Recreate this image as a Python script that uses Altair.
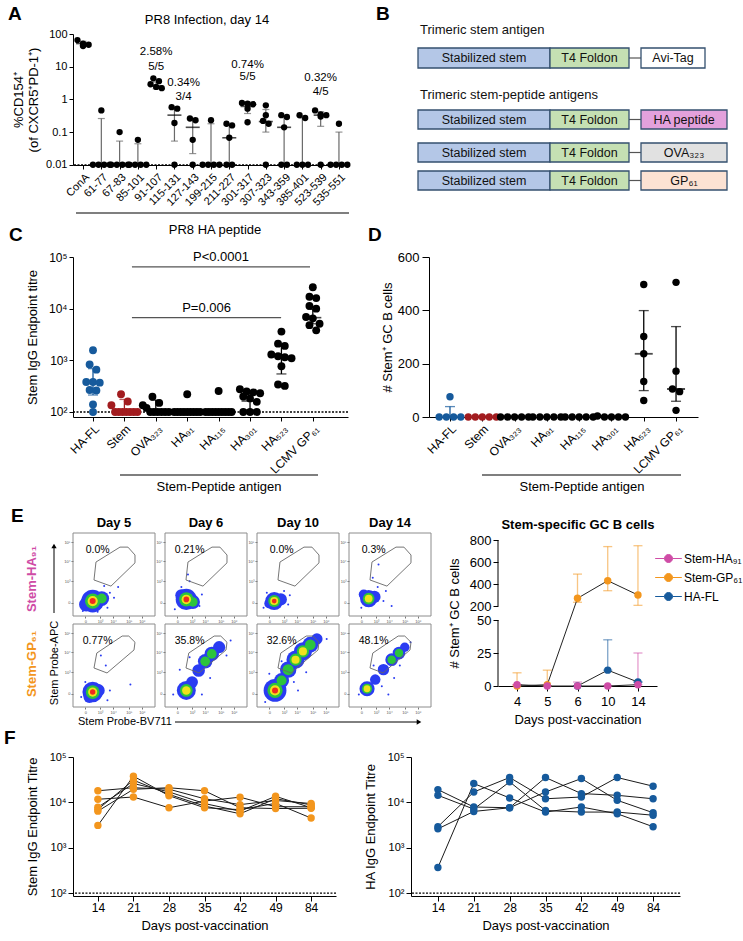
import json
import altair as alt
import numpy as np
import pandas as pd

FONT = "Liberation Sans"
BLUE = "#165a9c"
RED = "#a21c1f"
ORANGE = "#f3961d"
MAGENTA = "#cf4ca6"
ERR_GREY = "#6a6a6a"
SUP_EXPR = ("'10' + ['\u2070','\u00b9','\u00b2','\u00b3','\u2074','\u2075','\u2076']"
            "[round(log(datum.value) / LN10)]")
LETTER = dict(fontSize=19, fontWeight="bold", align="left", baseline="middle", color="black")

# ---------------- Panel A data ----------------
A_CATS = ["ConA", "61-77", "67-83", "85-101", "91-107", "115-131", "127-143",
          "199-215", "211-227", "301-317", "307-323", "343-359", "385-401",
          "523-539", "535-551"]
A_VALUES = [
    [65, 51, 43, 47],
    [0.46, 0.01, 0.01, 0.01, 0.01],
    [0.10, 0.01, 0.01, 0.01, 0.01],
    [0.058, 0.01, 0.01, 0.01, 0.01],
    [4.4, 3.6, 2.9, 2.4, 2.2],
    [0.58, 0.52, 0.19, 0.01],
    [0.26, 0.23, 0.058, 0.01],
    [0.23, 0.01, 0.01, 0.01, 0.01],
    [0.18, 0.16, 0.067, 0.01, 0.01],
    [0.78, 0.74, 0.71, 0.52, 0.20],
    [0.66, 0.33, 0.22, 0.18, 0.01],
    [0.33, 0.29, 0.14, 0.01, 0.01],
    [0.33, 0.27, 0.01, 0.01, 0.01],
    [0.46, 0.35, 0.33, 0.30, 0.01],
    [0.18, 0.01, 0.01, 0.01, 0.01],
]
A_MEAN = [51, 0.01, 0.01, 0.01, 2.58, 0.33, 0.14, 0.01, 0.067, 0.61, 0.21, 0.14, 0.01, 0.33, 0.01]
A_LOW = [44, 0.01, 0.01, 0.01, 2.1, 0.053, 0.022, 0.01, 0.01, 0.37, 0.10, 0.01, 0.01, 0.15, 0.01]
A_HIGH = [60, 0.26, 0.053, 0.044, 3.4, 0.59, 0.26, 0.18, 0.17, 0.82, 0.49, 0.30, 0.27, 0.42, 0.10]
A_NOTE_X = [4, 5.5, 9, 13]
A_NOTE_PCT = ["2.58%", "0.34%", "0.74%", "0.32%"]
A_NOTE_FRAC = ["5/5", "3/4", "5/5", "4/5"]
A_NOTE_PCT_Y = [27.9, 3.1, 11.4, 4.4]
A_NOTE_FRAC_Y = [9.7, 1.15, 4.8, 1.7]

# ---------------- Panel B data ----------------
B_HEADINGS = ["Trimeric stem antigen", "Trimeric stem-peptide antigens"]
B_HEADING_Y = [30, 95]
B_ROW_Y = [(48, 68), (110, 129), (143, 162), (171, 190)]
B_PARTS = ["Stabilized stem", "T4 Foldon"]
B_PART_X = [(414, 546), (546, 625)]
B_PART_FILL = ["#b4c7e7", "#c5e0b3"]
B_LINK_X = (625, 637)
B_TAGS = ["Avi-Tag", "HA peptide", "OVA\u2083\u2082\u2083", "GP\u2086\u2081"]
B_TAG_X = [(637, 701), (637, 723), (637, 723), (637, 723)]
B_TAG_FILL = ["#ffffff", "#e3a1dc", "#e1e1e1", "#fce2d3"]

# ---------------- Panel C / D data ----------------
CD_CATS = ["HA-FL", "Stem", "OVA\u2083\u2082\u2083", "HA\u2089\u2081", "HA\u2081\u2081\u2085",
           "HA\u2083\u2080\u2081", "HA\u2085\u2082\u2083", "LCMV GP\u2086\u2081"]
CD_COLORS = [BLUE, RED, "black", "black", "black", "black", "black", "black"]
C_VALUES = [
    [1570, 830, 660, 380, 380, 370, 267, 260, 140, 100],
    [220, 160, 135, 100, 100, 100, 100, 100, 100, 100],
    [197, 150, 135, 120, 100, 100, 100, 100, 100, 100],
    [220, 100, 100, 100, 100, 100, 100, 100, 100, 100],
    [255, 100, 100, 100, 100, 100, 100, 100, 100, 100],
    [276, 250, 240, 230, 200, 183, 157, 100, 100, 100],
    [3600, 2100, 1900, 1300, 1200, 1150, 1100, 770, 340, 320],
    [26000, 17000, 16000, 11300, 10000, 6900, 6500, 5100, 4800, 3800],
]
C_MEAN = [380, 110, 110, 100, 100, 163, 1180, 6700]
C_LOW = [213, 100, 100, 100, 100, 110, 545, 5100]
C_HIGH = [690, 175, 170, 100, 100, 230, 1970, 9700]
C_SIG_FROM = [1.24, 1.24]
C_SIG_TO = [6.91, 5.99]
C_SIG_Y = [64400, 6680]
C_SIG_TEXT = ["P<0.0001", "P=0.006"]

D_VALUES = [
    [76, 0, 0, 0, 0],
    [0, 0, 0, 0, 0],
    [0, 0, 0, 0, 0],
    [0, 0, 0, 0, 0],
    [0, 0, 0, 0, 0],
    [4, 0, 0, 0, 0],
    [497, 302, 237, 133, 62],
    [505, 172, 105, 95, 25],
]
D_MID = [0, 0, 0, 0, 0, 0, 237, 105]
D_LOW = [0, 0, 0, 0, 0, 0, 99, 59]
D_HIGH = [39, 0, 0, 0, 0, 0, 399, 339]

# ---------------- Panel E data ----------------
FLOW_DAYS = ["Day 5", "Day 6", "Day 10", "Day 14"]
FLOW_ROWS = ["Stem-HA\u2089\u2081", "Stem-GP\u2086\u2081"]
FLOW_PCT = [["0.0%", "0.21%", "0.0%", "0.3%"], ["0.77%", "35.8%", "32.6%", "48.1%"]]
GATE_TOP_X = [0.256, 0.28, 0.573, 0.67, 0.756, 0.756, 0.463, 0.256]
GATE_TOP_Y = [0.434, 0.65, 0.83, 0.83, 0.735, 0.64, 0.36, 0.434]
GATE_BOTTOM_X = [0.256, 0.29, 0.60, 0.68, 0.756, 0.744, 0.415, 0.256]
GATE_BOTTOM_Y = [0.47, 0.65, 0.855, 0.855, 0.78, 0.687, 0.41, 0.47]
# (row, day, x, y, cloud size, density level 1-4)
FLOW_BLOBS = [
    (0, 0, 0.24, 0.18, 520, 4), (0, 0, 0.35, 0.21, 220, 2), (0, 0, 0.16, 0.14, 200, 1),
    (0, 1, 0.26, 0.20, 450, 4), (0, 1, 0.34, 0.17, 200, 2), (0, 1, 0.20, 0.25, 150, 1),
    (0, 2, 0.21, 0.18, 320, 4), (0, 2, 0.29, 0.20, 150, 1), (0, 2, 0.15, 0.15, 100, 1),
    (0, 3, 0.24, 0.21, 300, 3), (0, 3, 0.31, 0.23, 150, 1), (0, 3, 0.18, 0.26, 100, 1),
    (1, 0, 0.24, 0.18, 420, 4), (1, 0, 0.31, 0.20, 160, 1), (1, 0, 0.20, 0.12, 140, 1),
    (1, 1, 0.26, 0.20, 360, 3), (1, 1, 0.33, 0.30, 140, 1), (1, 1, 0.41, 0.44, 160, 1),
    (1, 1, 0.49, 0.55, 210, 2), (1, 1, 0.57, 0.64, 210, 2), (1, 1, 0.66, 0.72, 150, 1),
    (1, 2, 0.22, 0.20, 520, 4), (1, 2, 0.30, 0.32, 220, 2), (1, 2, 0.38, 0.45, 270, 2),
    (1, 2, 0.47, 0.57, 330, 3), (1, 2, 0.56, 0.67, 330, 3), (1, 2, 0.65, 0.75, 250, 2),
    (1, 2, 0.73, 0.82, 130, 1),
    (1, 3, 0.22, 0.22, 230, 3), (1, 3, 0.32, 0.33, 110, 1), (1, 3, 0.42, 0.45, 130, 1),
    (1, 3, 0.52, 0.57, 160, 2), (1, 3, 0.61, 0.65, 160, 2), (1, 3, 0.68, 0.72, 90, 1),
]
FLOW_DOTS = [
    (0, 0, 0.45, 0.28), (0, 0, 0.50, 0.22), (0, 0, 0.42, 0.10), (0, 0, 0.55, 0.35),
    (0, 0, 0.38, 0.36), (0, 0, 0.12, 0.06), (0, 0, 0.30, 0.05),
    (0, 1, 0.28, 0.50), (0, 1, 0.30, 0.42), (0, 1, 0.12, 0.08), (0, 1, 0.42, 0.12),
    (0, 1, 0.45, 0.26), (0, 1, 0.20, 0.35),
    (0, 2, 0.40, 0.25), (0, 2, 0.38, 0.14), (0, 2, 0.08, 0.10), (0, 2, 0.33, 0.30), (0, 2, 0.12, 0.28),
    (0, 3, 0.36, 0.62), (0, 3, 0.29, 0.46), (0, 3, 0.35, 0.35), (0, 3, 0.45, 0.30),
    (0, 3, 0.52, 0.12), (0, 3, 0.15, 0.10), (0, 3, 0.42, 0.18),
    (1, 0, 0.34, 0.62), (1, 0, 0.40, 0.50), (1, 0, 0.70, 0.27), (1, 0, 0.45, 0.20),
    (1, 0, 0.15, 0.30), (1, 0, 0.42, 0.08), (1, 0, 0.10, 0.12),
    (1, 1, 0.18, 0.45), (1, 1, 0.30, 0.60), (1, 1, 0.75, 0.62), (1, 1, 0.10, 0.15),
    (1, 1, 0.80, 0.80), (1, 1, 0.55, 0.35), (1, 1, 0.45, 0.15),
    (1, 2, 0.15, 0.40), (1, 2, 0.45, 0.30), (1, 2, 0.85, 0.82), (1, 2, 0.60, 0.42),
    (1, 2, 0.10, 0.06), (1, 2, 0.50, 0.20), (1, 2, 0.30, 0.55),
    (1, 3, 0.12, 0.15), (1, 3, 0.40, 0.25), (1, 3, 0.55, 0.35), (1, 3, 0.75, 0.78),
    (1, 3, 0.30, 0.50), (1, 3, 0.48, 0.15), (1, 3, 0.62, 0.50),
]
RING_COLORS = ["#2a3cf2", "#2cc43c", "#f0e21c", "#ee2a1f"]
RING_SCALE = [1.0, 0.45, 0.2, 0.07]
FLOW_X_TICKS = [0.15, 0.33, 0.49, 0.68, 0.84]
FLOW_Y_TICKS = [0.16, 0.42, 0.66, 0.89]

E_DAYS = ["4", "5", "6", "10", "14"]
E_SERIES = ["Stem-HA\u2089\u2081", "Stem-GP\u2086\u2081", "HA-FL"]
E_COLORS = [MAGENTA, ORANGE, BLUE]
E_MEAN = [[1, 0, 0, 0, 1], [0, 1, 270, 430, 300], [None, None, 0, 12, 3]]
E_LOW = [[1, 0, 0, 0, 1], [0, 0, 234, 339, 206], [None, None, 0, 12, 3]]
E_HIGH = [[1, 0, 3, 0, 25], [10, 12, 490, 740, 748], [None, None, 0, 35, 3]]

# ---------------- Panel F data ----------------
F_DAYS = ["14", "21", "28", "35", "42", "49", "84"]
F_STEM = [
    [18000, 21000, 19500, 12000, 8900, 11000, 9400],
    [11700, 13100, 7600, 10700, 13000, 8000, 8000],
    [7800, 26000, 17000, 9400, 6400, 13600, 7600],
    [7000, 30800, 15000, 8300, 5600, 12000, 8800],
    [6400, 19400, 21000, 18000, 7600, 7300, 7400],
    [3100, 37800, 14000, 7600, 6900, 9500, 4500],
]
F_HA = [
    [19100, 7900, 7600, 35300, 15600, 14300, 12000],
    [14300, 7100, 28300, 6600, 6100, 6100, 5200],
    [2900, 16900, 35300, 12000, 13100, 35300, 22700],
    [2600, 6300, 7600, 16900, 33500, 11100, 5900],
    [365, 26000, 12500, 6100, 7900, 5600, 2900],
]


# ---------------- helpers ----------------
def swarm(vals, to_px, diam, gap, max_half):
    order = sorted(range(len(vals)), key=lambda i: -vals[i])
    groups = []
    for i in order:
        y = to_px(vals[i])
        if groups and abs(groups[-1][0] - y) < diam * 0.8:
            groups[-1][1].append(i)
        else:
            groups.append([y, [i]])
    offs = [0.0] * len(vals)
    for _, idx in groups:
        k = len(idx)
        if k > 1:
            step = min(diam * gap, 2.0 * max_half / (k - 1))
            for j, i in enumerate(idx):
                offs[i] = (j - (k - 1) / 2.0) * step
    return offs


def note(text, x, y, **style):
    return alt.Chart(pd.DataFrame({"t": [text]})).mark_text(**style).encode(
        text="t:N", x=alt.value(x), y=alt.value(y))


def hrule(x1, x2, y, **style):
    return alt.Chart(pd.DataFrame({"k": [0]})).mark_rule(**style).encode(
        x=alt.value(x1), x2=alt.value(x2), y=alt.value(y))


def vrule(x, y1, y2, **style):
    return alt.Chart(pd.DataFrame({"k": [0]})).mark_rule(**style).encode(
        x=alt.value(x), y=alt.value(y1), y2=alt.value(y2))


def spacer(y):
    return hrule(0, 1, y, strokeOpacity=0)


def cat_axis(cats, size):
    return alt.Axis(values=list(range(len(cats))),
                    labelExpr=json.dumps(cats, ensure_ascii=False) + "[datum.value]",
                    labelAngle=-45, labelFontSize=size, tickSize=4, labelPadding=2, title=None,
                    labelOverlap=False, labelBound=False)


# ================= Panel A =================
A_W, A_H = 276, 131
A_XDOM = [-0.55, 14.55]
A_YDOM = [0.00985, 100]
a_cat_px = A_W / (A_XDOM[1] - A_XDOM[0])
a_dec_px = A_H / (np.log10(A_YDOM[1]) - np.log10(A_YDOM[0]))


def a_x(f):
    return alt.X(f"{f}:Q", scale=alt.Scale(domain=A_XDOM, nice=False, zero=False),
                 axis=cat_axis(A_CATS, 11))


def a_y(f):
    return alt.Y(f"{f}:Q", scale=alt.Scale(type="log", domain=A_YDOM, nice=False),
                 axis=alt.Axis(values=[0.01, 0.1, 1, 10, 100], format="~g",
                               title=["%CD154\u207a", "(of CXCR5\u207aPD-1\u207a)"],
                               titleFontSize=13, labelFontSize=11, tickSize=4, titlePadding=5,
                               labelOverlap=False))


a_rows = []
for i, vals in enumerate(A_VALUES):
    offs = swarm(vals, lambda v: np.log10(v) * a_dec_px, 7.0, 0.8, 8.5)
    for v, o in zip(vals, offs):
        a_rows.append({"x": i + o / a_cat_px, "v": v})
a_pts = pd.DataFrame(a_rows)
a_sum = pd.DataFrame({"x": list(range(len(A_CATS))), "mean": A_MEAN, "lo": A_LOW, "hi": A_HIGH})
a_notes = pd.DataFrame({"x": A_NOTE_X + A_NOTE_X, "v": A_NOTE_PCT_Y + A_NOTE_FRAC_Y,
                        "t": A_NOTE_PCT + A_NOTE_FRAC})

chart_a = alt.layer(
    alt.Chart(pd.DataFrame({"v": [0.01]})).mark_rule(
        color="black", strokeDash=[2, 1.5], strokeWidth=1.3).encode(y=a_y("v")),
    alt.Chart(a_sum).mark_rule(color=ERR_GREY, strokeWidth=1.2).encode(
        x=a_x("x"), y=a_y("lo"), y2="hi:Q"),
    alt.Chart(a_sum).mark_tick(orient="horizontal", size=7, thickness=1.2, color=ERR_GREY).encode(
        x=a_x("x"), y=a_y("hi")),
    alt.Chart(a_sum).mark_tick(orient="horizontal", size=7, thickness=1.2, color=ERR_GREY).encode(
        x=a_x("x"), y=a_y("lo")),
    alt.Chart(a_sum).mark_tick(orient="horizontal", size=14, thickness=1.6, color="black").encode(
        x=a_x("x"), y=a_y("mean")),
    alt.Chart(a_pts).mark_circle(size=40, color="black", opacity=1).encode(x=a_x("x"), y=a_y("v")),
    alt.Chart(a_notes).mark_text(fontSize=11.5).encode(x=a_x("x"), y=a_y("v"), text="t:N"),
    note("PR8 Infection, day 14", 134, -14, fontSize=13),
    hrule(3, 276, 179, color="black", strokeWidth=1.2),
    note("A", -65, -20, **LETTER),
    spacer(-34),
    spacer(183),
).properties(width=A_W, height=A_H)

# ================= Panel B =================
B_X0, B_X1, B_Y0, B_Y1 = 414, 723, 34, 199
b_rect, b_text, b_link = [], [], []
for r, (y0, y1) in enumerate(B_ROW_Y):
    parts = [(B_PART_X[0], B_PART_FILL[0], B_PARTS[0]),
             (B_PART_X[1], B_PART_FILL[1], B_PARTS[1]),
             (B_TAG_X[r], B_TAG_FILL[r], B_TAGS[r])]
    for (x0, x1), fill, label in parts:
        b_rect.append({"x": x0, "x2": x1, "y": y0, "y2": y1, "fill": fill})
        b_text.append({"x": (x0 + x1) / 2, "y": (y0 + y1) / 2, "t": label})
    b_link.append({"x": B_LINK_X[0], "x2": B_LINK_X[1], "y": (y0 + y1) / 2})
b_head = pd.DataFrame({"x": [B_X0 + 2] * 2, "y": B_HEADING_Y, "t": B_HEADINGS})


def bx(f):
    return alt.X(f"{f}:Q", scale=alt.Scale(domain=[B_X0, B_X1], nice=False, zero=False), axis=None)


def by(f):
    return alt.Y(f"{f}:Q", scale=alt.Scale(domain=[B_Y0, B_Y1], nice=False, zero=False, reverse=True),
                 axis=None)


chart_b = alt.layer(
    alt.Chart(pd.DataFrame(b_link)).mark_rule(color="#555555", strokeWidth=1.2).encode(
        x=bx("x"), x2="x2:Q", y=by("y")),
    alt.Chart(pd.DataFrame(b_rect)).mark_rect(stroke="#34506f", strokeWidth=1.3).encode(
        x=bx("x"), x2="x2:Q", y=by("y"), y2="y2:Q", fill=alt.Fill("fill:N", scale=None)),
    alt.Chart(pd.DataFrame(b_text)).mark_text(fontSize=12.5, color="#111111").encode(
        x=bx("x"), y=by("y"), text="t:N"),
    alt.Chart(b_head).mark_text(fontSize=13, align="left", color="#111111").encode(
        x=bx("x"), y=by("y"), text="t:N"),
    note("B", -42, -20, **LETTER),
).properties(width=B_X1 - B_X0, height=B_Y1 - B_Y0)

# ================= Panel C =================
C_W, C_H = 275, 160
C_XDOM = [-0.637, 8.12]
C_YDOM = [80, 100000]
c_cat_px = C_W / (C_XDOM[1] - C_XDOM[0])
c_dec_px = C_H / (np.log10(C_YDOM[1]) - np.log10(C_YDOM[0]))


def c_x(f):
    return alt.X(f"{f}:Q", scale=alt.Scale(domain=C_XDOM, nice=False, zero=False),
                 axis=cat_axis(CD_CATS, 12))


def c_y(f):
    return alt.Y(f"{f}:Q", scale=alt.Scale(type="log", domain=C_YDOM, nice=False),
                 axis=alt.Axis(values=[100, 1000, 10000, 100000], labelExpr=SUP_EXPR,
                               title="Stem IgG Endpoint titre", titleFontSize=13,
                               labelFontSize=12, tickSize=4, titlePadding=9))


c_rows = []
for i, vals in enumerate(C_VALUES):
    offs = swarm(vals, lambda v: np.log10(v) * c_dec_px, 9.0, 0.75, 13.0)
    for v, o in zip(vals, offs):
        c_rows.append({"x": i + o / c_cat_px, "v": v, "c": CD_COLORS[i]})
c_pts = pd.DataFrame(c_rows)
c_sum = pd.DataFrame({"x": list(range(len(CD_CATS))), "mean": C_MEAN, "lo": C_LOW, "hi": C_HIGH,
                      "c": CD_COLORS})
c_sig = pd.DataFrame({"x1": C_SIG_FROM, "x2": C_SIG_TO, "v": C_SIG_Y, "t": C_SIG_TEXT,
                      "xm": [(a + b) / 2 for a, b in zip(C_SIG_FROM, C_SIG_TO)]})
colf = alt.Color("c:N", scale=None)

chart_c = alt.layer(
    alt.Chart(pd.DataFrame({"v": [100]})).mark_rule(
        color="black", strokeDash=[2, 1.5], strokeWidth=1.3).encode(y=c_y("v")),
    alt.Chart(c_sum).mark_rule(strokeWidth=1.3).encode(x=c_x("x"), y=c_y("lo"), y2="hi:Q", color=colf),
    alt.Chart(c_sum).mark_tick(orient="horizontal", size=10, thickness=1.3).encode(
        x=c_x("x"), y=c_y("hi"), color=colf),
    alt.Chart(c_sum).mark_tick(orient="horizontal", size=10, thickness=1.3).encode(
        x=c_x("x"), y=c_y("lo"), color=colf),
    alt.Chart(c_sum).mark_tick(orient="horizontal", size=17, thickness=1.6).encode(
        x=c_x("x"), y=c_y("mean"), color=colf),
    alt.Chart(c_pts).mark_circle(size=62, opacity=1).encode(x=c_x("x"), y=c_y("v"), color=colf),
    alt.Chart(c_sig).mark_rule(color="#555555", strokeWidth=1.2).encode(
        x=c_x("x1"), x2="x2:Q", y=c_y("v")),
    alt.Chart(c_sig).mark_text(fontSize=13, dy=-10).encode(x=c_x("xm"), y=c_y("v"), text="t:N"),
    note("PR8 HA peptide", 142, -27, fontSize=13),
    hrule(47, 245, 218, color="black", strokeWidth=1.2),
    note("Stem-Peptide antigen", 146, 230, fontSize=13),
    note("C", -64, -22, **LETTER),
    spacer(-40),
    spacer(243),
).properties(width=C_W, height=C_H)

# ================= Panel D =================
D_W, D_H = 269, 160
D_XDOM = [-0.65, 7.68]
D_YDOM = [0, 600]
d_cat_px = D_W / (D_XDOM[1] - D_XDOM[0])


def d_x(f):
    return alt.X(f"{f}:Q", scale=alt.Scale(domain=D_XDOM, nice=False, zero=False),
                 axis=cat_axis(CD_CATS, 12))


def d_y(f):
    return alt.Y(f"{f}:Q", scale=alt.Scale(domain=D_YDOM, nice=False, zero=False),
                 axis=alt.Axis(values=[0, 200, 400, 600], title="# Stem\u207a GC B cells",
                               titleFontSize=13, labelFontSize=13, tickSize=7, labelPadding=3,
                               titlePadding=3))


d_rows = []
for i, vals in enumerate(D_VALUES):
    offs = swarm(vals, lambda v: v * D_H / 600.0, 8.0, 0.9, 14.0)
    for v, o in zip(vals, offs):
        d_rows.append({"x": i + o / d_cat_px, "v": v, "c": CD_COLORS[i]})
d_pts = pd.DataFrame(d_rows)
d_err_colors = [BLUE] + ["black"] * 7
d_sum = pd.DataFrame({"x": list(range(len(CD_CATS))), "mid": D_MID, "lo": D_LOW, "hi": D_HIGH,
                      "c": d_err_colors})

chart_d = alt.layer(
    alt.Chart(d_sum).mark_rule(strokeWidth=1.3).encode(x=d_x("x"), y=d_y("lo"), y2="hi:Q", color=colf),
    alt.Chart(d_sum).mark_tick(orient="horizontal", size=10, thickness=1.3).encode(
        x=d_x("x"), y=d_y("hi"), color=colf),
    alt.Chart(d_sum).mark_tick(orient="horizontal", size=10, thickness=1.3).encode(
        x=d_x("x"), y=d_y("lo"), color=colf),
    alt.Chart(d_sum).mark_tick(orient="horizontal", size=18, thickness=1.8).encode(
        x=d_x("x"), y=d_y("mid"), color=colf),
    alt.Chart(d_pts).mark_circle(size=55, opacity=1).encode(x=d_x("x"), y=d_y("v"), color=colf),
    hrule(53, 252, 218, color="black", strokeWidth=1.2),
    note("Stem-Peptide antigen", 153, 230, fontSize=13),
    note("D", -61, -22, **LETTER),
).properties(width=D_W, height=D_H)

# ================= Panel E (flow grid) =================
recs = []
for r in range(2):
    for d in range(4):
        base = {"row": FLOW_ROWS[r], "day": FLOW_DAYS[d]}
        gx, gy = (GATE_TOP_X, GATE_TOP_Y) if r == 0 else (GATE_BOTTOM_X, GATE_BOTTOM_Y)
        for o, (x, y) in enumerate(zip(gx, gy)):
            recs.append({**base, "kind": "gate", "x": x, "y": y, "o": o})
        recs.append({**base, "kind": "pct", "x": 0.30, "y": 0.79, "t": FLOW_PCT[r][d]})
        recs.append({**base, "kind": "frame", "x": 0, "x2": 1, "y": 0, "y2": 1})
for (r, d, x, y, s, h) in FLOW_BLOBS:
    for lvl in range(h):
        recs.append({"row": FLOW_ROWS[r], "day": FLOW_DAYS[d], "kind": "ring", "x": x, "y": y,
                     "s": s * RING_SCALE[lvl], "c": RING_COLORS[lvl], "L": lvl})
for (r, d, x, y) in FLOW_DOTS:
    recs.append({"row": FLOW_ROWS[r], "day": FLOW_DAYS[d], "kind": "dot", "x": x, "y": y})
top0 = {"row": FLOW_ROWS[0], "day": FLOW_DAYS[0]}
bot0 = {"row": FLOW_ROWS[1], "day": FLOW_DAYS[0]}
recs += [
    {**top0, "kind": "rowlab_top", "t": FLOW_ROWS[0]},
    {**bot0, "kind": "rowlab_bottom", "t": FLOW_ROWS[1]},
    {**bot0, "kind": "apc", "t": "Stem Probe-APC"},
    {**bot0, "kind": "bv", "t": "Stem Probe-BV711"},
    {**bot0, "kind": "harrow"},
    {**top0, "kind": "varrow"},
    {**top0, "kind": "letter", "t": "E"},
]
flow_df = pd.DataFrame(recs)


def lbl_expr(ticks, labels):
    return json.dumps(labels, ensure_ascii=False) + "[indexof(" + json.dumps(ticks) + ", datum.value)]"


FX_AXIS = alt.Axis(values=FLOW_X_TICKS, title=None, domain=False, grid=False, tickSize=2,
                   tickColor="#777777", labelFontSize=4, labelColor="#555555", labelPadding=1,
                   labelExpr=lbl_expr(FLOW_X_TICKS, ["0", "10\u00b3", "10\u2074", "10\u2075", "10\u2076"]))
FY_AXIS = alt.Axis(values=FLOW_Y_TICKS, title=None, domain=False, grid=False, tickSize=2,
                   tickColor="#777777", labelFontSize=4, labelColor="#555555", labelPadding=1,
                   labelExpr=lbl_expr(FLOW_Y_TICKS, ["0", "10\u00b3", "10\u2074", "10\u2075"]))


def fx(f):
    return alt.X(f"{f}:Q", scale=alt.Scale(domain=[0, 1], nice=False, zero=False), axis=FX_AXIS)


def fy(f):
    return alt.Y(f"{f}:Q", scale=alt.Scale(domain=[0, 1], nice=False, zero=False), axis=FY_AXIS)


def kind(k):
    return alt.Chart().transform_filter(alt.datum.kind == k)


flow_layers = alt.layer(
    kind("ring").mark_circle(opacity=1).encode(
        x=fx("x"), y=fy("y"), size=alt.Size("s:Q", scale=None),
        color=alt.Color("c:N", scale=None), order=alt.Order("L:Q")),
    kind("dot").mark_circle(size=4, color=RING_COLORS[0], opacity=1).encode(x=fx("x"), y=fy("y")),
    kind("gate").mark_line(color="#666666", strokeWidth=0.9).encode(
        x=fx("x"), y=fy("y"), order=alt.Order("o:Q")),
    kind("pct").mark_text(fontSize=10.5).encode(x=fx("x"), y=fy("y"), text="t:N"),
    kind("frame").mark_rect(fillOpacity=0, stroke="#8c8c8c", strokeWidth=1).encode(
        x=fx("x"), x2="x2:Q", y=fy("y"), y2="y2:Q"),
    kind("rowlab_top").mark_text(angle=270, fontSize=13, fontWeight="bold", color=MAGENTA).encode(
        text="t:N", x=alt.value(-41), y=alt.value(46)),
    kind("rowlab_bottom").mark_text(angle=270, fontSize=13, fontWeight="bold", color=ORANGE).encode(
        text="t:N", x=alt.value(-41), y=alt.value(40)),
    kind("apc").mark_text(angle=270, fontSize=11).encode(text="t:N", x=alt.value(-18), y=alt.value(39)),
    kind("bv").mark_text(fontSize=11, align="left").encode(text="t:N", x=alt.value(5), y=alt.value(98)),
    kind("harrow").mark_rule(color="black", strokeWidth=1).encode(
        x=alt.value(102), x2=alt.value(345), y=alt.value(98)),
    kind("harrow").mark_point(shape="triangle-right", filled=True, size=28, color="black", opacity=1).encode(
        x=alt.value(346), y=alt.value(98)),
    kind("varrow").mark_rule(color="black", strokeWidth=1).encode(
        x=alt.value(-19), y=alt.value(14), y2=alt.value(80)),
    kind("varrow").mark_point(shape="triangle-up", filled=True, size=28, color="black", opacity=1).encode(
        x=alt.value(-19), y=alt.value(13)),
    kind("letter").mark_text(**LETTER).encode(text="t:N", x=alt.value(-62), y=alt.value(-17)),
    kind("letter").mark_rule(strokeOpacity=0).encode(x=alt.value(0), x2=alt.value(1), y=alt.value(-33)),
    data=flow_df,
).properties(width=82, height=83)

chart_e_flow = flow_layers.facet(
    row=alt.Row("row:N", sort=FLOW_ROWS, header=alt.Header(labels=False, title=None)),
    column=alt.Column("day:N", sort=FLOW_DAYS,
                      header=alt.Header(title=None, labelFontSize=13, labelFontWeight="bold",
                                        labelPadding=3)),
    spacing={"row": 8, "column": 10},
    bounds="flush",
).resolve_axis(x="independent", y="independent")

# ================= Panel E (GC B cells) =================
E_W, E_H = 159, 153
e_rows = []
for s_i in [1, 2, 0]:
    for d_i, day in enumerate(E_DAYS):
        m = E_MEAN[s_i][d_i]
        if m is None:
            continue
        e_rows.append({"series": E_SERIES[s_i], "day": day, "di": d_i, "m": m,
                       "lo": E_LOW[s_i][d_i], "hi": E_HIGH[s_i][d_i]})
e_df = pd.DataFrame(e_rows)

ex = alt.X("day:N", sort=E_DAYS, scale=alt.Scale(type="point", padding=0.63),
           axis=alt.Axis(labelAngle=0, title="Days post-vaccination", labelFontSize=13,
                         titleFontSize=13, tickSize=5, labelPadding=4, titlePadding=5))


def ey(f):
    return alt.Y(f"{f}:Q",
                 scale=alt.Scale(domain=[0, 50, 200, 800], range=[153, 87, 73, 7], nice=False, zero=False),
                 axis=alt.Axis(values=[0, 25, 50, 200, 400, 600, 800], title="# Stem\u207a GC B cells",
                               domain=False, labelFontSize=13, titleFontSize=13, tickSize=5,
                               titlePadding=8, labelOverlap=False))


LEGEND_PATH = "M-2,0L-0.6,0M0.6,0L2,0M0.6,0A0.6,0.6,0,1,1,-0.6,0A0.6,0.6,0,1,1,0.6,0Z"
E_LEGEND = alt.Legend(title=None, orient="none", legendX=163, legendY=18, symbolType=LEGEND_PATH,
                      symbolSize=178, symbolStrokeColor="#555555", symbolStrokeWidth=1,
                      symbolOpacity=1, labelFontSize=12, labelOffset=8, rowPadding=5, padding=0,
                      labelLimit=70)
e_color = alt.Color("series:N", scale=alt.Scale(domain=E_SERIES, range=E_COLORS), legend=E_LEGEND)

chart_e_right = alt.layer(
    alt.Chart(pd.DataFrame({"lo": [0, 200], "hi": [50, 800]})).mark_rule(
        color="black", strokeWidth=1).encode(x=alt.value(0), y=ey("lo"), y2="hi:Q"),
    alt.Chart(e_df).mark_rule(strokeWidth=1.3, opacity=0.55).encode(
        x=ex, y=ey("lo"), y2="hi:Q", color=e_color),
    alt.Chart(e_df).mark_tick(orient="horizontal", size=9, thickness=1.3, opacity=0.55).encode(
        x=ex, y=ey("hi"), color=e_color),
    alt.Chart(e_df).mark_tick(orient="horizontal", size=9, thickness=1.3, opacity=0.55).encode(
        x=ex, y=ey("lo"), color=e_color),
    alt.Chart(e_df).mark_line(color="#222222", strokeWidth=1).encode(
        x=ex, y=ey("m"), detail="series:N", order=alt.Order("di:Q")),
    alt.Chart(e_df).mark_circle(size=55, opacity=1).encode(x=ex, y=ey("m"), color=e_color),
    note("Stem-specific GC B cells", 80, -8, fontSize=13, fontWeight="bold"),
    spacer(-33),
    spacer(195),
    vrule(-60, 50, 51, strokeOpacity=0),
).properties(width=E_W, height=E_H)


# ================= Panel F =================
def f_chart(values, color, ytitle, width, pad, extra):
    rows = []
    for m, series in enumerate(values):
        for di, (day, v) in enumerate(zip(F_DAYS, series)):
            rows.append({"mouse": m, "day": day, "di": di, "v": v})
    df = pd.DataFrame(rows)
    fxx = alt.X("day:N", sort=F_DAYS, scale=alt.Scale(type="point", padding=pad),
                axis=alt.Axis(labelAngle=0, title="Days post-vaccination", labelFontSize=12,
                              titleFontSize=13, tickSize=5, labelPadding=1, titlePadding=6))

    def fyy(f):
        return alt.Y(f"{f}:Q", scale=alt.Scale(type="log", domain=[86, 100000], nice=False),
                     axis=alt.Axis(values=[100, 1000, 10000, 100000], labelExpr=SUP_EXPR, title=ytitle,
                                   titleFontSize=13, labelFontSize=11, tickSize=5, titlePadding=10))

    return alt.layer(
        alt.Chart(pd.DataFrame({"v": [100]})).mark_rule(
            color="black", strokeDash=[2, 1.5], strokeWidth=1.3).encode(y=fyy("v")),
        alt.Chart(df).mark_line(color="#1a1a1a", strokeWidth=1).encode(
            x=fxx, y=fyy("v"), detail="mouse:N", order=alt.Order("di:Q")),
        alt.Chart(df).mark_circle(size=55, color=color, opacity=1).encode(x=fxx, y=fyy("v")),
        *extra,
    ).properties(width=width, height=139)


chart_f1 = f_chart(F_STEM, ORANGE, "Stem IgG Endpoint Titre", 263, 0.7,
                   [note("F", -69, -19, **LETTER), spacer(-29)])
chart_f2 = f_chart(F_HA, BLUE, "HA IgG Endpoint Titre", 269, 0.75, [])

# ================= Layout =================
row1 = alt.hconcat(chart_a, chart_b, spacing=69, bounds="flush")
row2 = alt.hconcat(chart_c, chart_d, spacing=81, bounds="flush")
row3 = alt.hconcat(chart_e_flow, chart_e_right, spacing=6).resolve_scale(
    color="independent").resolve_legend(color="independent")
row4 = alt.hconcat(chart_f1, chart_f2, spacing=75, bounds="flush")

chart = alt.vconcat(row1, row2, row3, row4, spacing=0).resolve_scale(
    color="independent").resolve_legend(color="independent").properties(
    padding={"left": 4, "top": 0, "right": 0, "bottom": 0}
).configure(font=FONT).configure_view(stroke=None).configure_axis(
    grid=False, domainColor="black", tickColor="black", labelColor="black", titleColor="black",
    titleFontWeight="normal", labelFont=FONT, titleFont=FONT
).configure_header(labelFont=FONT).configure_legend(labelFont=FONT)

chart.save("out.html", embed_options={"renderer": "svg", "actions": False})
